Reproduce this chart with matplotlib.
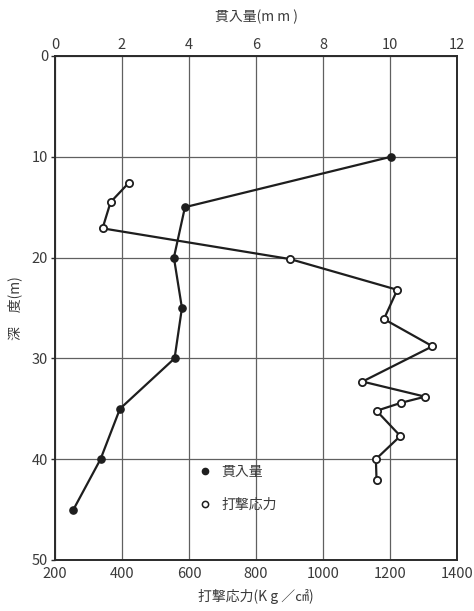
import matplotlib
matplotlib.use("Agg")
import matplotlib.pyplot as plt
from matplotlib.lines import Line2D

plt.rcParams['font.family'] = ['Noto Sans CJK JP', 'DejaVu Sans']

# 貫入量 (mm) vs depth (m)
pen_depth = [10, 15, 20, 25, 30, 35, 40, 45]
pen_mm = [10.03, 3.88, 3.55, 3.79, 3.57, 1.94, 1.36, 0.55]

# 打撃応力 (Kg/cm2) vs depth (m)
str_depth = [12.6, 14.5, 17.1, 20.15, 23.2, 26.1, 28.8, 32.3, 33.8, 34.4, 35.2, 37.7, 40.0, 42.1]
str_val = [420, 366, 342, 902, 1222, 1182, 1327, 1118, 1305, 1234, 1160, 1231, 1158, 1160]

depth_ticks = [0, 10, 20, 30, 40, 50]
stress_ticks = [200, 400, 600, 800, 1000, 1200, 1400]
mm_ticks = [0, 2, 4, 6, 8, 10, 12]

txt = '#3a3a3a'
line_c = '#1e1e1e'
grid_c = '#606060'

fig = plt.figure(figsize=(4.74, 6.11), dpi=100)
ax = fig.add_axes([0.116, 0.0835, 0.848, 0.8249])

ax.set_xlim(200, 1400)
ax.set_ylim(50, 0)
ax.set_xticks(stress_ticks)
ax.set_yticks(depth_ticks)
ax.grid(True, color=grid_c, linewidth=0.9)
ax.set_axisbelow(True)
for s in ax.spines.values():
    s.set_color('#2a2a2a')
    s.set_linewidth(1.4)
ax.tick_params(axis='x', length=0, pad=5, labelsize=10.5, labelcolor=txt)
ax.tick_params(axis='y', length=3, width=1, pad=2, labelsize=10.5, labelcolor=txt, color='#2a2a2a')
ax.set_xlabel('打撃応力(K g ／㎠)', fontsize=10, color=txt, labelpad=6)
ax.set_ylabel('深　度(m)', fontsize=10, color=txt, labelpad=7)

ax.plot(str_val, str_depth, '-o', color=line_c, linewidth=1.6,
        markersize=5.2, markerfacecolor='white', markeredgecolor=line_c,
        markeredgewidth=1.3, zorder=3)

axt = ax.twiny()
axt.set_xlim(0, 12)
axt.set_xticks(mm_ticks)
axt.tick_params(axis='x', length=0, pad=3, labelsize=10.5, labelcolor=txt)
axt.set_xlabel('貫入量(m m )', fontsize=10, color=txt, labelpad=12)
for s in axt.spines.values():
    s.set_visible(False)
axt.plot(pen_mm, pen_depth, '-o', color=line_c, linewidth=1.6,
         markersize=5.2, markerfacecolor=line_c, markeredgecolor=line_c, zorder=3)

handles = [
    Line2D([], [], linestyle='none', marker='o', markersize=4.5,
           markerfacecolor=line_c, markeredgecolor=line_c),
    Line2D([], [], linestyle='none', marker='o', markersize=4.5,
           markerfacecolor='white', markeredgecolor=line_c, markeredgewidth=1.1),
]
leg = ax.legend(handles, ['貫入量', '打撃応力'], loc='center left',
                bbox_to_anchor=(0.325, 0.142), frameon=False, fontsize=10,
                handlelength=1.0, handletextpad=0.7, labelspacing=1.35)
for t in leg.get_texts():
    t.set_color(txt)

fig.savefig('out.png', dpi=100, facecolor='white')
